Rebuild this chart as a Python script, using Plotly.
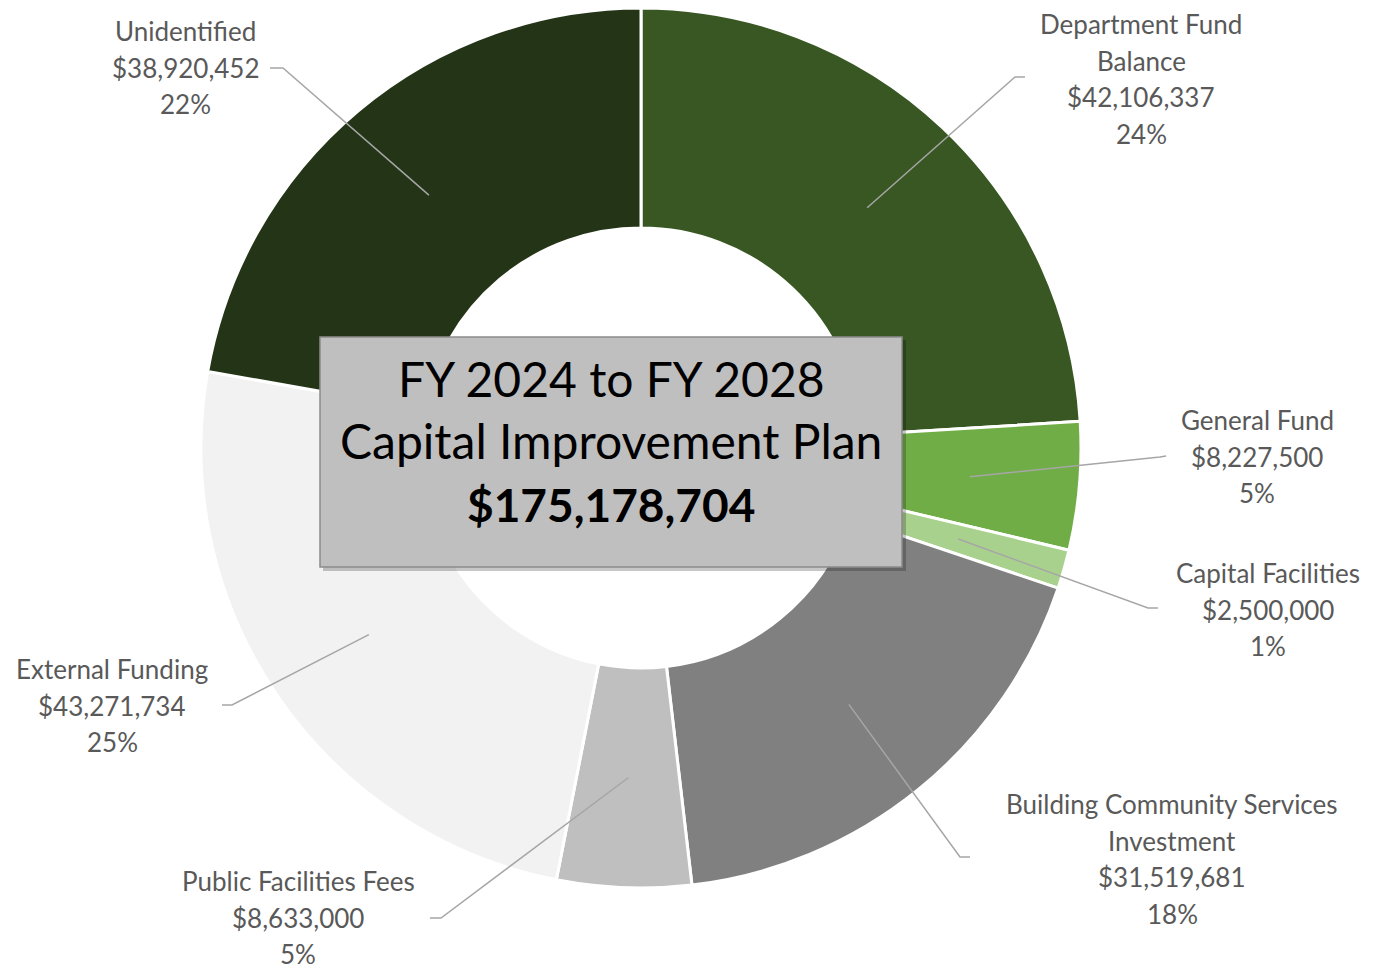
import math
import plotly.graph_objects as go

W, H = 1382, 971

# ---- data ----
names = ["Department Fund\nBalance", "General Fund", "Capital Facilities",
         "Building Community Services\nInvestment", "Public Facilities Fees",
         "External Funding", "Unidentified"]
values = [42106337, 8227500, 2500000, 31519681, 8633000, 43271734, 38920452]
colors = ["#385723", "#70AD47", "#A9D18E", "#808080", "#BFBFBF", "#F2F2F2", "#243517"]
title_lines = ["FY 2024 to FY 2028", "Capital Improvement Plan"]
total_label = "$175,178,704"

# ---- layout (pixel positions of label blocks / leader elbows) ----
label_pos = [(1141, 24), (1257, 420), (1268, 573), (1172, 804), (298, 881), (112, 669), (186, 31)]
elbows = [((1015, 77), (1025, 77)), ((1160, 457), (1166, 456)), ((1148, 608), (1158, 608)),
          ((960, 857), (970, 857)), ((441, 918), (430, 918)), ((232, 705), (222, 705)),
          ((283, 68), (270, 68))]
cx, cy, R = 641, 448, 440
anchor_r = 330
line_h = 36.7


def px(x):
    return x / W


def py(y):
    return 1 - y / H


fig = go.Figure()
fig.add_trace(go.Pie(
    labels=[n.replace("\n", " ") for n in names], values=values, hole=0.5,
    sort=False, direction="clockwise", rotation=0,
    marker=dict(colors=colors, line=dict(color="white", width=3)),
    textinfo="none", hoverinfo="label+value+percent", showlegend=False,
    domain=dict(x=[px(cx - R), px(cx + R)], y=[py(cy + R), py(cy - R)]),
))

total = sum(values)
shapes = []
annotations = []
cum = 0
for i, v in enumerate(values):
    mid = (cum + v / 2) / total
    cum += v
    ang = 2 * math.pi * mid
    ax = cx + anchor_r * math.sin(ang)
    ay = cy - anchor_r * math.cos(ang)
    (ex, ey), (fx, fy) = elbows[i]
    path = f"M {px(ax)} {py(ay)} L {px(ex)} {py(ey)} L {px(fx)} {py(fy)}"
    shapes.append(dict(type="path", xref="paper", yref="paper", path=path,
                       line=dict(color="#A6A6A6", width=1.5)))
    pct = round(v / total * 100)
    lines = names[i].split("\n") + [f"${v:,}", f"{pct}%"]
    lx, ly = label_pos[i]
    for k, t in enumerate(lines):
        annotations.append(dict(x=px(lx), y=py(ly + k * line_h), xref="paper", yref="paper",
                                text=t, showarrow=False, xanchor="center", yanchor="middle",
                                font=dict(family="Lato", size=26, color="#595959")))

# center box with shadow
bx0, by0, bx1, by1 = 320, 337, 902, 567
shapes.append(dict(type="rect", xref="paper", yref="paper", layer="above",
                   x0=px(bx0 + 3), x1=px(bx1 + 4), y0=py(by1 + 4), y1=py(by0 + 3),
                   fillcolor="rgba(0,0,0,0.22)", line=dict(width=0)))
shapes.append(dict(type="rect", xref="paper", yref="paper", layer="above",
                   x0=px(bx0), x1=px(bx1), y0=py(by1), y1=py(by0),
                   fillcolor="#BFBFBF", line=dict(color="#8C8C8C", width=1.5)))

tcx = (bx0 + bx1) / 2
for k, t in enumerate(title_lines + [f"<b>{total_label}</b>"]):
    annotations.append(dict(x=px(tcx), y=py(378 + k * 63), xref="paper", yref="paper",
                            text=t, showarrow=False, xanchor="center", yanchor="middle",
                            font=dict(family="Lato", size=48 if k < 2 else 46, color="#000000")))

fig.update_layout(width=W, height=H, margin=dict(l=0, r=0, t=0, b=0),
                  paper_bgcolor="white", plot_bgcolor="white",
                  shapes=shapes, annotations=annotations)

fig.write_html("out.html", config={"displayModeBar": False},
               post_script="document.body.style.margin='0';")
